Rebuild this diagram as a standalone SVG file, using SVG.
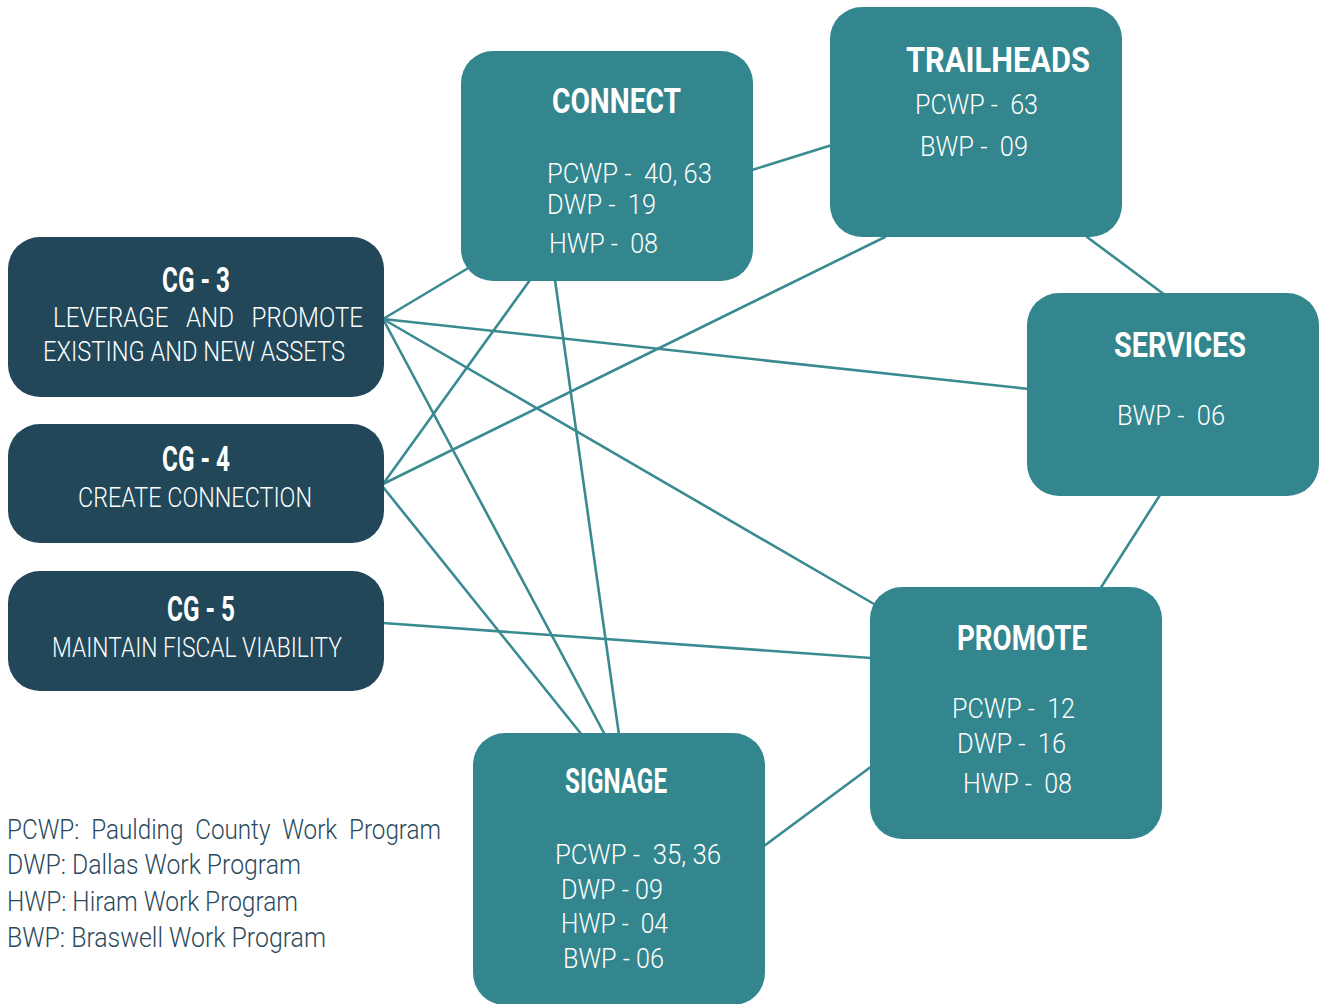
<svg xmlns="http://www.w3.org/2000/svg" width="1323" height="1004" viewBox="0 0 1323 1004">
<style>
.bg{fill:#ffffff}
.dark{fill:#214759}
.teal{fill:#33868e}
.link{stroke:#3a8a92;stroke-width:2.6;fill:none;stroke-linecap:round}
.title{font-family:Roboto,"Liberation Sans",sans-serif;font-weight:700;font-size:35px;fill:#ffffff}
.body{font-family:Roboto,"Liberation Sans",sans-serif;font-weight:300;font-size:28px;fill:#ffffff}
.legend{font-family:Roboto,"Liberation Sans",sans-serif;font-weight:300;font-size:27px;fill:#2a4a5c}
</style>
<rect class="bg" x="0" y="0" width="1323" height="1004"/>
<g id="connectors">
<line class="link" x1="752" y1="170" x2="832" y2="145"/>
<line class="link" x1="1087" y1="237" x2="1165" y2="295"/>
<line class="link" x1="1160" y1="495" x2="1100" y2="589"/>
<line class="link" x1="872" y1="766" x2="764" y2="846"/>
<line class="link" x1="383" y1="319" x2="470" y2="267"/>
<line class="link" x1="383" y1="319" x2="1029" y2="389"/>
<line class="link" x1="383" y1="319" x2="874" y2="604"/>
<line class="link" x1="383" y1="319" x2="605" y2="735"/>
<line class="link" x1="383" y1="484" x2="530" y2="280"/>
<line class="link" x1="383" y1="484" x2="885" y2="237"/>
<line class="link" x1="383" y1="487" x2="582" y2="735"/>
<line class="link" x1="555" y1="280" x2="619" y2="735"/>
<line class="link" x1="383" y1="623" x2="871" y2="658"/>
</g>
<g id="cg3">
<rect class="dark" x="8" y="237" width="376" height="160" rx="32"/>
<text class="title" x="162" y="292" textLength="68" lengthAdjust="spacingAndGlyphs">CG - 3</text>
<text class="body" x="53" y="327" textLength="310" lengthAdjust="spacingAndGlyphs" xml:space="preserve">LEVERAGE   AND   PROMOTE</text>
<text class="body" x="43" y="361" textLength="302" lengthAdjust="spacingAndGlyphs">EXISTING AND NEW ASSETS</text>
</g>
<g id="cg4">
<rect class="dark" x="8" y="424" width="376" height="119" rx="32"/>
<text class="title" x="162" y="471" textLength="68" lengthAdjust="spacingAndGlyphs">CG - 4</text>
<text class="body" x="78" y="507" textLength="234" lengthAdjust="spacingAndGlyphs">CREATE CONNECTION</text>
</g>
<g id="cg5">
<rect class="dark" x="8" y="571" width="376" height="120" rx="32"/>
<text class="title" x="167" y="621" textLength="68" lengthAdjust="spacingAndGlyphs">CG - 5</text>
<text class="body" x="52" y="657" textLength="290" lengthAdjust="spacingAndGlyphs">MAINTAIN FISCAL VIABILITY</text>
</g>
<g id="connect">
<rect class="teal" x="461" y="51" width="292" height="230" rx="32"/>
<text class="title" x="552" y="113" textLength="129" lengthAdjust="spacingAndGlyphs">CONNECT</text>
<text class="body" x="547" y="183" textLength="165" lengthAdjust="spacingAndGlyphs" xml:space="preserve">PCWP -  40, 63</text>
<text class="body" x="547" y="214" textLength="109" lengthAdjust="spacingAndGlyphs" xml:space="preserve">DWP -  19</text>
<text class="body" x="549" y="253" textLength="109" lengthAdjust="spacingAndGlyphs" xml:space="preserve">HWP -  08</text>
</g>
<g id="trailheads">
<rect class="teal" x="830" y="7" width="292" height="230" rx="32"/>
<text class="title" x="906" y="72" textLength="184" lengthAdjust="spacingAndGlyphs">TRAILHEADS</text>
<text class="body" x="915" y="114" textLength="123" lengthAdjust="spacingAndGlyphs" xml:space="preserve">PCWP -  63</text>
<text class="body" x="920" y="156" textLength="108" lengthAdjust="spacingAndGlyphs" xml:space="preserve">BWP -  09</text>
</g>
<g id="services">
<rect class="teal" x="1027" y="293" width="292" height="203" rx="32"/>
<text class="title" x="1114" y="357" textLength="132" lengthAdjust="spacingAndGlyphs">SERVICES</text>
<text class="body" x="1117" y="425" textLength="108" lengthAdjust="spacingAndGlyphs" xml:space="preserve">BWP -  06</text>
</g>
<g id="promote">
<rect class="teal" x="870" y="587" width="292" height="252" rx="32"/>
<text class="title" x="957" y="650" textLength="130" lengthAdjust="spacingAndGlyphs">PROMOTE</text>
<text class="body" x="952" y="718" textLength="123" lengthAdjust="spacingAndGlyphs" xml:space="preserve">PCWP -  12</text>
<text class="body" x="957" y="753" textLength="109" lengthAdjust="spacingAndGlyphs" xml:space="preserve">DWP -  16</text>
<text class="body" x="963" y="793" textLength="109" lengthAdjust="spacingAndGlyphs" xml:space="preserve">HWP -  08</text>
</g>
<g id="signage">
<rect class="teal" x="473" y="733" width="292" height="272" rx="32"/>
<text class="title" x="565" y="793" textLength="102" lengthAdjust="spacingAndGlyphs">SIGNAGE</text>
<text class="body" x="555" y="864" textLength="166" lengthAdjust="spacingAndGlyphs" xml:space="preserve">PCWP -  35, 36</text>
<text class="body" x="561" y="899" textLength="102" lengthAdjust="spacingAndGlyphs">DWP - 09</text>
<text class="body" x="561" y="933" textLength="107" lengthAdjust="spacingAndGlyphs" xml:space="preserve">HWP -  04</text>
<text class="body" x="563" y="968" textLength="101" lengthAdjust="spacingAndGlyphs">BWP - 06</text>
</g>
<g id="legend">
<text class="legend" x="7" y="839" textLength="434" lengthAdjust="spacingAndGlyphs" xml:space="preserve">PCWP:  Paulding  County  Work  Program</text>
<text class="legend" x="7" y="874" textLength="294" lengthAdjust="spacingAndGlyphs">DWP: Dallas Work Program</text>
<text class="legend" x="7" y="911" textLength="291" lengthAdjust="spacingAndGlyphs">HWP: Hiram Work Program</text>
<text class="legend" x="7" y="947" textLength="319" lengthAdjust="spacingAndGlyphs">BWP: Braswell Work Program</text>
</g>
</svg>
